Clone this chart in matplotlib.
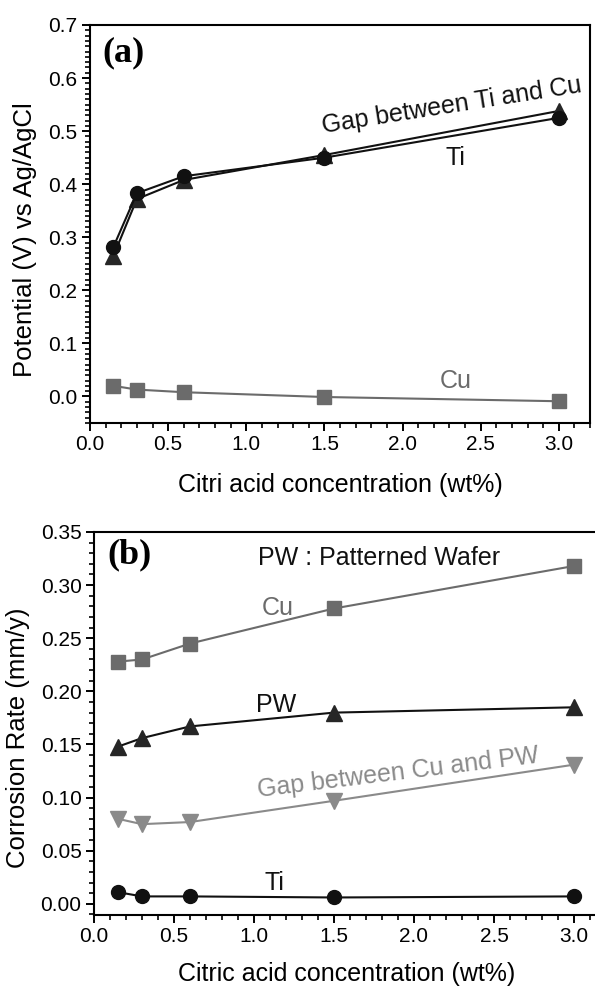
import matplotlib
matplotlib.use("Agg")
import matplotlib.pyplot as plt
from matplotlib.ticker import MultipleLocator

# panel (a): potential vs citric acid concentration
conc = [0.15, 0.3, 0.6, 1.5, 3.0]
pot_ti = [0.282, 0.383, 0.415, 0.450, 0.525]
pot_gap = [0.265, 0.372, 0.408, 0.455, 0.538]
pot_cu = [0.020, 0.013, 0.008, -0.001, -0.009]

# panel (b): corrosion rate
rate_cu = [0.228, 0.230, 0.245, 0.278, 0.318]
rate_pw = [0.148, 0.156, 0.167, 0.180, 0.185]
rate_gap = [0.080, 0.075, 0.077, 0.097, 0.131]
rate_ti = [0.011, 0.007, 0.007, 0.006, 0.007]

BLACK = "#111111"
DARK = "#262626"
CU_GRAY = "#6b6b6b"
GAP_GRAY = "#8a8a8a"

plt.rcParams.update(
    {
        "font.family": "Liberation Sans",
        "font.size": 15,
        "axes.linewidth": 1.5,
        "xtick.major.width": 1.4,
        "ytick.major.width": 1.4,
        "xtick.minor.width": 1.2,
        "ytick.minor.width": 1.2,
        "xtick.major.size": 5.5,
        "ytick.major.size": 5.5,
        "xtick.minor.size": 3.5,
        "ytick.minor.size": 3.5,
    }
)

W, H = 595, 986
fig = plt.figure(figsize=(W / 100, H / 100), dpi=100)


def px_axes(left, top, right, bottom):
    return fig.add_axes([left / W, 1 - bottom / H, (right - left) / W, (bottom - top) / H])


def fig_text(x, y, s, **kw):
    fig.text(x / W, 1 - y / H, s, ha="center", va="center", **kw)


def style(a, ystep, yminor, yfmt):
    a.set_xlim(0, 3.2)
    a.xaxis.set_major_locator(MultipleLocator(0.5))
    a.xaxis.set_minor_locator(MultipleLocator(0.1))
    a.yaxis.set_major_locator(MultipleLocator(ystep))
    a.yaxis.set_minor_locator(MultipleLocator(yminor))
    a.xaxis.set_major_formatter(lambda v, p: f"{v:.1f}")
    a.yaxis.set_major_formatter(lambda v, p: yfmt.format(v))
    a.tick_params(which="both", direction="out", top=False, right=False, labelsize=15)


# ---- (a) ----
ax = px_axes(90, 25, 590, 423)
ax.plot(conc, pot_gap, color=BLACK, lw=1.5, marker="^", ms=12, mfc=DARK, mec=DARK, zorder=3)
ax.plot(conc, pot_ti, color=BLACK, lw=1.5, marker="o", ms=10, mfc=BLACK, mec=BLACK, zorder=3)
ax.plot(conc, pot_cu, color=CU_GRAY, lw=1.5, marker="s", ms=9.5, mfc=CU_GRAY, mec=CU_GRAY, zorder=3)
style(ax, 0.1, 0.01, "{:.1f}")
ax.set_ylim(-0.05, 0.7)
ax.text(0.024, 0.93, "(a)", transform=ax.transAxes, fontsize=26, fontweight="bold",
        family="Liberation Serif", va="center", ha="left")
ax.text(1.49, 0.496, "Gap between Ti and Cu", fontsize=18, rotation=9, rotation_mode="anchor",
        color=BLACK, ha="left", va="baseline")
ax.text(2.34, 0.449, "Ti", fontsize=18, color=BLACK, ha="center", va="center")
ax.text(2.34, 0.029, "Cu", fontsize=18, color=CU_GRAY, ha="center", va="center")
fig_text(340, 485, "Citri acid concentration (wt%)", fontsize=18)
fig_text(25, 240, "Potential (V) vs Ag/AgCl", fontsize=18.5, rotation=90)

# ---- (b) ----
bx = px_axes(94, 532, 606, 915)
bx.plot(conc, rate_cu, color=CU_GRAY, lw=1.5, marker="s", ms=9.5, mfc=CU_GRAY, mec=CU_GRAY, zorder=3)
bx.plot(conc, rate_pw, color=BLACK, lw=1.5, marker="^", ms=12, mfc=DARK, mec=DARK, zorder=3)
bx.plot(conc, rate_gap, color=GAP_GRAY, lw=1.5, marker="v", ms=12, mfc=GAP_GRAY, mec=GAP_GRAY, zorder=3)
bx.plot(conc, rate_ti, color=BLACK, lw=1.5, marker="o", ms=10, mfc=BLACK, mec=BLACK, zorder=3)
style(bx, 0.05, 0.01, "{:.2f}")
bx.set_ylim(-0.0105, 0.35)
bx.text(0.027, 0.94, "(b)", transform=bx.transAxes, fontsize=26, fontweight="bold",
        family="Liberation Serif", va="center", ha="left")
bx.text(1.025, 0.3255, "PW : Patterned Wafer", fontsize=18, color=BLACK, ha="left", va="center")
bx.text(1.15, 0.2785, "Cu", fontsize=18, color=CU_GRAY, ha="center", va="center")
bx.text(1.14, 0.187, "PW", fontsize=18, color=BLACK, ha="center", va="center")
bx.text(1.025, 0.1007, "Gap between Cu and PW", fontsize=18, rotation=7, rotation_mode="anchor",
        color=GAP_GRAY, ha="left", va="baseline")
bx.text(1.13, 0.0198, "Ti", fontsize=18, color=BLACK, ha="center", va="center")
fig_text(347, 974, "Citric acid concentration (wt%)", fontsize=18)
fig_text(18, 738, "Corrosion Rate (mm/y)", fontsize=18.5, rotation=90)

fig.savefig("out.png", dpi=100)
